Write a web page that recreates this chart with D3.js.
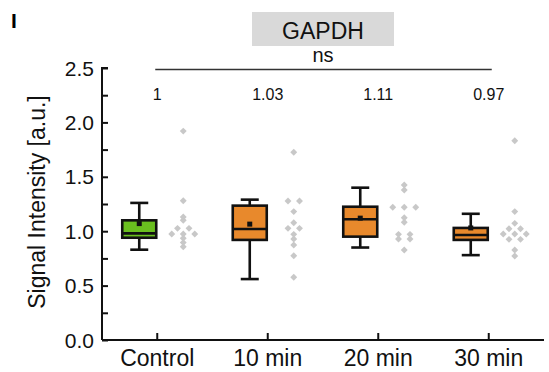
<!DOCTYPE html>
<html>
<head>
<meta charset="utf-8">
<script src="https://cdn.jsdelivr.net/npm/d3@7"></script>
<style>
  html, body { margin: 0; padding: 0; background: #fff; }
  svg { display: block; font-family: "Liberation Sans", Arial, sans-serif; }
</style>
</head>
<body>
<svg id="chart" width="549" height="372"></svg>
<script>
// ---- data ----
const categories = ["Control", "10 min", "20 min", "30 min"];
const boxColors = ["#6abf1f", "#e8892c", "#e8892c", "#e8892c"];
const whiskerLow  = [0.83, 0.56, 0.85, 0.78];
const q1          = [0.94, 0.92, 0.95, 0.92];
const median      = [0.98, 1.02, 1.11, 0.965];
const q3          = [1.10, 1.235, 1.225, 1.03];
const whiskerHigh = [1.26, 1.29, 1.40, 1.16];
const means       = [1.07, 1.065, 1.12, 1.03];
const ratioLabels = ["1", "1.03", "1.11", "0.97"];
const pointsControl = [1.92, 1.28, 1.13, 1.10, 1.026, 1.026, 0.975, 0.975, 0.975, 0.935, 0.895, 0.857];
const points10 = [1.725, 1.278, 1.278, 1.18, 1.078, 1.026, 1.026, 0.971, 0.928, 0.873, 0.775, 0.576];
const points20 = [1.425, 1.379, 1.22, 1.22, 1.22, 1.124, 1.082, 0.971, 0.971, 0.928, 0.928, 0.827];
const points30 = [1.832, 1.18, 1.072, 1.023, 1.023, 0.974, 0.974, 0.974, 0.925, 0.925, 0.827, 0.772];
const pointSets = [pointsControl, points10, points20, points30];
const yTicks = [0, 0.5, 1.0, 1.5, 2.0, 2.5];
const yMinorTicks = [0.25, 0.75, 1.25, 1.75, 2.25];
const titleText = "GAPDH";
const sigText = "ns";
const yLabel = "Signal Intensity [a.u.]";
const panelLabel = "I";

// ---- layout ----
const svg = d3.select("#chart");
const mLeft = 102, mRight = 544, mTop = 68, mBottom = 340;
const y = d3.scaleLinear().domain([0, 2.5]).range([mBottom, mTop]);
const x = d3.scaleBand().domain(categories).range([mLeft, mRight]);
const sub = d3.scalePoint().domain(["box", "dots"]).range([-18, 26]);
const cx = c => x(c) + x.bandwidth() / 2;

// panel label
svg.append("text").attr("x", 11).attr("y", 28)
  .attr("font-size", 21).attr("font-weight", "bold").text(panelLabel);

// title box
const tbW = 142, tbH = 34;
const mid = (mLeft + mRight) / 2;
svg.append("rect").attr("x", mid - tbW / 2).attr("y", 12).attr("width", tbW).attr("height", tbH)
  .attr("fill", "#d9d9d9");
svg.append("text").attr("x", mid).attr("y", 38.5).attr("text-anchor", "middle")
  .attr("font-size", 23).attr("fill", "#111").text(titleText);

// significance
svg.append("line").attr("x1", cx(categories[0]) - 2).attr("x2", cx(categories[3]) + 3)
  .attr("y1", 69.5).attr("y2", 69.5).attr("stroke", "#333").attr("stroke-width", 1.3);
svg.append("text").attr("x", mid).attr("y", 62).attr("text-anchor", "middle")
  .attr("font-size", 20).attr("fill", "#111").text(sigText);

// ratio labels
svg.selectAll("text.ratio").data(categories).join("text").attr("class", "ratio")
  .attr("x", d => cx(d)).attr("y", 100).attr("text-anchor", "middle")
  .attr("font-size", 16).attr("fill", "#111").text((d, i) => ratioLabels[i]);

// axes
const yAxis = svg.append("g").attr("transform", `translate(${mLeft},0)`)
  .call(d3.axisRight(y).tickValues(yTicks).tickSize(6).tickFormat(""));
yAxis.select(".domain").attr("d", `M${6},${mTop}H0V${mBottom}`);
const yMinor = svg.append("g").attr("transform", `translate(${mLeft},0)`)
  .call(d3.axisRight(y).tickValues(yMinorTicks).tickSize(6).tickFormat(""));
yMinor.select(".domain").remove();
svg.selectAll("g .tick line").attr("stroke", "#111").attr("stroke-width", 2);
yAxis.select(".domain").attr("stroke", "#111").attr("stroke-width", 2);

svg.selectAll("text.ytick").data(yTicks).join("text").attr("class", "ytick")
  .attr("x", 94).attr("y", d => y(d)).attr("dy", "0.36em").attr("text-anchor", "end")
  .attr("font-size", 21).attr("fill", "#111").text(d3.format(".1f"));

const xAxis = svg.append("g").attr("transform", `translate(0,${mBottom})`)
  .call(d3.axisTop(x).tickSize(7).tickFormat(""));
xAxis.select(".domain").attr("d", `M${mLeft},0H${mRight}`).attr("stroke", "#111").attr("stroke-width", 2);
xAxis.selectAll(".tick line").attr("stroke", "#111").attr("stroke-width", 2);

svg.selectAll("text.xtick").data(categories).join("text").attr("class", "xtick")
  .attr("x", d => cx(d)).attr("y", 366).attr("text-anchor", "middle")
  .attr("font-size", 23).attr("fill", "#111").text(d => d);

// y label
svg.append("text").attr("transform", `translate(45,${(mTop + mBottom) / 2 - 2}) rotate(-90)`)
  .attr("text-anchor", "middle").attr("font-size", 23).attr("fill", "#111").text(yLabel);

// dots (grouped by equal value, spread horizontally)
const spacing = 11.5;
const diamond = d3.symbol().type(d3.symbolSquare).size(24);
categories.forEach((c, ci) => {
  const vals = pointSets[ci];
  const groups = d3.group(vals, v => v);
  const pts = [];
  groups.forEach((arr, v) => {
    arr.forEach((vv, k) => pts.push({ v: vv, off: (k - (arr.length - 1) / 2) * spacing }));
  });
  svg.append("g").selectAll("path").data(pts).join("path")
    .attr("d", diamond)
    .attr("transform", d => `translate(${cx(c) + sub("dots") + d.off},${y(d.v)}) rotate(45)`)
    .attr("fill", "#c8c8c8");
});

// boxes
const boxW = 34, capW = 18;
categories.forEach((c, i) => {
  const bx = cx(c) + sub("box");
  const g = svg.append("g");
  const st = { stroke: "#111", "stroke-width": 2.6 };
  const ln = (x1, y1, x2, y2) => {
    const l = g.append("line").attr("x1", x1).attr("y1", y1).attr("x2", x2).attr("y2", y2);
    Object.entries(st).forEach(([k, v]) => l.attr(k, v));
  };
  ln(bx, y(whiskerHigh[i]), bx, y(q3[i]));
  ln(bx, y(q1[i]), bx, y(whiskerLow[i]));
  ln(bx - capW / 2, y(whiskerHigh[i]), bx + capW / 2, y(whiskerHigh[i]));
  ln(bx - capW / 2, y(whiskerLow[i]), bx + capW / 2, y(whiskerLow[i]));
  g.append("rect").attr("x", bx - boxW / 2).attr("y", y(q3[i]))
    .attr("width", boxW).attr("height", y(q1[i]) - y(q3[i]))
    .attr("fill", boxColors[i]).attr("stroke", "#111").attr("stroke-width", 2.6);
  ln(bx - boxW / 2, y(median[i]), bx + boxW / 2, y(median[i]));
  g.append("rect").attr("x", bx - 2.5).attr("y", y(means[i]) - 2.5)
    .attr("width", 5).attr("height", 5).attr("fill", "#111");
});
</script>
</body>
</html>
